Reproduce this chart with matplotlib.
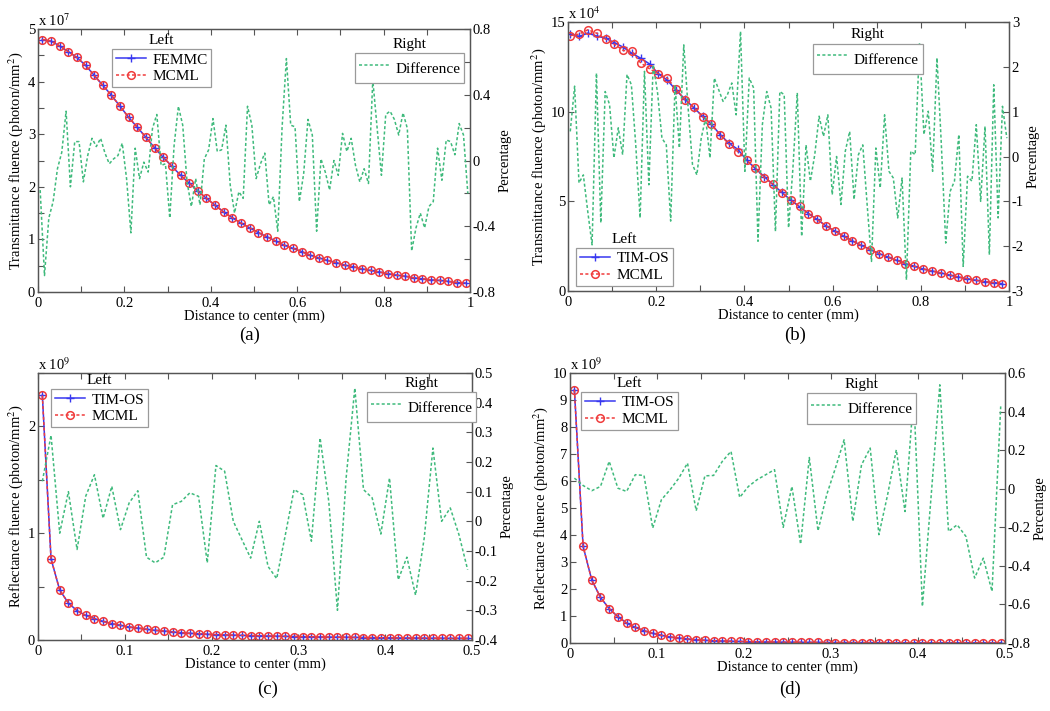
import matplotlib
matplotlib.use('Agg')
import matplotlib.pyplot as plt
import numpy as np

plt.rcParams['font.family'] = ['Liberation Serif', 'DejaVu Serif']
plt.rcParams['mathtext.fontset'] = 'stix'

# ---- data -------------------------------------------------------------
# (a) transmittance, FEMMC vs MCML
a_x = np.arange(0.01, 1.0, 0.02)
a_femmc = [4.80, 4.77, 4.68, 4.57, 4.46, 4.31, 4.12, 3.93, 3.74, 3.53,
           3.32, 3.13, 2.94, 2.74, 2.56, 2.39, 2.22, 2.07, 1.92, 1.78,
           1.65, 1.52, 1.41, 1.31, 1.22, 1.13, 1.05, 0.97, 0.89, 0.83,
           0.77, 0.70, 0.65, 0.60, 0.56, 0.51, 0.48, 0.44, 0.41, 0.38,
           0.35, 0.32, 0.30, 0.27, 0.25, 0.23, 0.22, 0.20, 0.18, 0.17]
a_mcml = list(a_femmc)
a_diff = [-0.18, -0.70, -0.35, -0.25, -0.05, 0.05, 0.30, -0.16, 0.115, 0.115,
          -0.13, 0.03, 0.135, 0.085, 0.135, 0.045, -0.02, 0.01, 0.03, 0.105,
          -0.11, -0.44, 0.075, -0.11, -0.01, -0.07, 0.195, 0.28, -0.03, -0.02,
          -0.35, 0.09, 0.33, 0.215, -0.13, -0.28, -0.11, -0.27, 0.01, 0.065,
          0.255, 0.055, 0.065, 0.215, -0.15, -0.32, -0.19, -0.23, 0.33, 0.215,
          -0.11, -0.02, 0.045, -0.27, -0.22, -0.43, 0.20, 0.62, 0.215, 0.205,
          -0.25, -0.08, 0.25, 0.155, -0.43, 0.01, -0.07, -0.18, 0.0, -0.09,
          0.165, 0.055, 0.135, -0.03, -0.13, -0.05, -0.14, 0.49, 0.20, -0.09,
          0.28, 0.30, 0.25, 0.155, 0.29, 0.195, -0.55, -0.41, -0.32, -0.41,
          -0.28, -0.25, 0.075, -0.12, 0.125, 0.115, 0.035, 0.225, 0.155, -0.20]

# (b) transmittance, TIM-OS vs MCML
b_x = np.arange(0.005, 1.0, 0.02)
b_timos = [14.33, 14.20, 14.38, 14.22, 14.10, 13.85, 13.60, 13.25, 12.98, 12.66,
           12.11, 11.76, 11.20, 10.70, 10.22, 9.75, 9.30, 8.72, 8.24, 7.90,
           7.30, 6.82, 6.38, 5.92, 5.50, 5.07, 4.70, 4.32, 3.99, 3.63,
           3.34, 3.06, 2.79, 2.55, 2.31, 2.09, 1.90, 1.71, 1.53, 1.38,
           1.23, 1.12, 1.01, 0.89, 0.78, 0.69, 0.60, 0.52, 0.47, 0.41]
b_mcml = [14.24, 14.33, 14.57, 14.38, 14.05, 13.77, 13.42, 13.36, 12.71, 12.39,
          12.11, 11.87, 11.25, 10.66, 10.25, 9.73, 9.30, 8.70, 8.20, 7.77,
          7.30, 6.84, 6.33, 5.96, 5.48, 5.07, 4.73, 4.32, 3.99, 3.63,
          3.34, 3.06, 2.79, 2.55, 2.31, 2.09, 1.90, 1.71, 1.53, 1.38,
          1.23, 1.12, 1.01, 0.89, 0.78, 0.69, 0.60, 0.52, 0.47, 0.41]
b_diff = [0.56, 1.57, -0.59, -0.41, -1.22, -1.97, 1.86, -1.48, 1.45, 1.16,
          -0.03, 0.64, 0.04, 1.83, 1.60, 0.26, -1.37, 1.90, -0.63, 2.05,
          1.42, 0.41, 0.26, -1.44, 1.60, 0.19, 2.49, 1.08, -0.18, -0.41,
          0.41, 0.86, -0.03, 1.75, 1.49, 1.23, 1.38, 1.64, 0.93, 2.79,
          -0.33, 1.75, 1.53, -1.89, 0.71, 1.45, 1.08, -1.67, 1.45, 1.38,
          -1.59, -0.26, 1.42, -1.78, 0.26, -0.55, 0.04, 0.90, 0.45, 0.93,
          -0.85, 0.0, -1.07, 0.12, 0.56, -0.96, 0.04, 0.26, -1.07, -2.34,
          0.19, -0.70, 0.93, -0.33, -0.48, -1.37, -0.48, -2.75, 0.12, 0.04,
          2.53, 0.49, 1.01, -0.33, 2.20, 0.26, -1.93, -0.78, -0.55, 0.49,
          -2.45, -0.44, -0.55, 0.71, -1.00, 0.67, -2.19, 1.60, -1.37, 1.12,
          0.41]

# (c) reflectance, TIM-OS vs MCML
c_x = np.arange(0.005, 0.5, 0.01)
c_timos = [2.29, 0.76, 0.467, 0.346, 0.274, 0.23, 0.20, 0.174, 0.153, 0.137,
           0.121, 0.112, 0.10, 0.09, 0.084, 0.075, 0.068, 0.062, 0.059, 0.053,
           0.050, 0.047, 0.045, 0.043, 0.041, 0.039, 0.037, 0.035, 0.034, 0.032,
           0.031, 0.030, 0.028, 0.027, 0.026, 0.025, 0.024, 0.023, 0.022, 0.021,
           0.020, 0.019, 0.018, 0.018, 0.017, 0.016, 0.016, 0.015, 0.015, 0.014]
c_mcml = list(c_timos)
c_diff = [0.135, 0.29, -0.04, 0.10, -0.095, 0.085, 0.157, 0.01, 0.118, -0.028,
          0.062, 0.103, -0.121, -0.14, -0.121, 0.056, 0.067, 0.096, 0.084, -0.14,
          0.188, 0.169, 0.0, -0.062, -0.124, 0.0, -0.152, -0.193, -0.045, 0.107,
          0.09, -0.067, 0.281, 0.067, -0.30, 0.146, 0.449, 0.107, 0.079, -0.043,
          0.146, -0.197, -0.121, -0.249, -0.056, 0.247, 0.0, 0.045, -0.045, -0.163]

# (d) reflectance, TIM-OS vs MCML
d_x = np.arange(0.005, 0.5, 0.01)
d_timos = [9.38, 3.58, 2.33, 1.69, 1.27, 0.975, 0.74, 0.58, 0.457, 0.36,
           0.284, 0.222, 0.185, 0.148, 0.123, 0.10, 0.086, 0.075, 0.065, 0.057,
           0.050, 0.044, 0.039, 0.035, 0.031, 0.028, 0.025, 0.023, 0.021, 0.019,
           0.017, 0.016, 0.015, 0.014, 0.013, 0.012, 0.011, 0.011, 0.010, 0.010,
           0.009, 0.009, 0.008, 0.008, 0.008, 0.007, 0.007, 0.007, 0.006, 0.006]
d_mcml = list(d_timos)
d_diff = [0.055, 0.017, -0.01, 0.012, 0.142, 0.003, -0.014, 0.073, 0.069, -0.204,
          -0.057, -0.005, 0.055, 0.133, -0.114, 0.067, 0.069, 0.142, 0.194, -0.045,
          0.012, 0.047, 0.073, 0.099, -0.20, 0.012, -0.287, 0.162, -0.218, -0.031,
          0.107, 0.254, -0.169, 0.124, 0.211, -0.238, -0.031, 0.202, -0.118, 0.487,
          -0.61, -0.04, 0.539, -0.221, -0.187, -0.247, -0.463, -0.36, -0.532, 0.427]

BLUE = '#3838f0'
RED = '#f03c3c'
GREEN = '#3fba7c'
FRAME = '#555555'
FS = 10.5


def tick_labels(ticks, shown):
    """Return labels for ticks, blank where the value is not in shown."""
    out = []
    for t in ticks:
        if any(abs(t - s) < 1e-9 for s in shown):
            out.append('%g' % (round(t, 6) + 0.0))
        else:
            out.append('')
    return out


def draw_panel(fig, rect, x, left1, left2, names, xdiff, diff,
               xlim, ylim, ylim2, xticks, xshown, yticks, yshown,
               rticks, rshown, exponent, ylabel, leg_left, leg_right):
    ax = fig.add_axes(rect)
    ax2 = ax.twinx()

    l1, = ax.plot(x, left1, '-', color=BLUE, lw=1.1, marker='+',
                  ms=5.5, mew=1.0)
    l2, = ax.plot(x, left2, linestyle=(0, (2, 1.5)), color=RED, lw=1.1,
                  marker='o', ms=5.5, mfc='none', mec=RED, mew=1.1)
    l3, = ax2.plot(xdiff, diff, linestyle=(0, (2, 1.5)), color=GREEN, lw=1.1)

    ax.set_xlim(xlim)
    ax.set_ylim(ylim)
    ax2.set_ylim(ylim2)

    ax.set_xticks(xticks)
    ax.set_xticklabels(tick_labels(xticks, xshown))
    ax.set_yticks(yticks)
    ax.set_yticklabels(tick_labels(yticks, yshown))
    ax2.set_yticks(rticks)
    ax2.set_yticklabels(tick_labels(rticks, rshown))

    ax.tick_params(direction='in', top=True, right=False, length=4,
                   width=0.8, color=FRAME, labelsize=FS, pad=2)
    ax.tick_params(axis='x', pad=3.5)
    ax2.tick_params(direction='in', length=4, width=0.8, color=FRAME,
                    labelsize=FS, pad=2)
    for a in (ax, ax2):
        for s in a.spines.values():
            s.set_color(FRAME)
            s.set_linewidth(0.9)

    ax.set_xlabel('Distance to center (mm)', fontsize=FS, labelpad=0)
    ax.set_ylabel(ylabel, fontsize=FS, labelpad=2)
    ax2.set_ylabel('Percentage', fontsize=FS, labelpad=2)

    ax.text(0.0, 1.0, r'x 10$^{%d}$' % exponent, transform=ax.transAxes,
            ha='left', va='bottom', fontsize=FS)

    # both legends live on the twin axes so they stay on top
    kw = dict(loc='upper left', frameon=True, fancybox=False,
              edgecolor='#9a9a9a', framealpha=1, fontsize=FS + 0.5,
              borderaxespad=0, handlelength=2.0, handletextpad=0.4,
              numpoints=1, borderpad=0.25)
    leg1 = ax2.legend([l1, l2], names, bbox_to_anchor=leg_left,
                      labelspacing=0.2, **kw)
    leg1.get_frame().set_linewidth(0.9)
    ax2.add_artist(leg1)
    leg2 = ax2.legend([l3], ['Difference'], bbox_to_anchor=leg_right,
                      handleheight=1.9, **kw)
    leg2.get_frame().set_linewidth(0.9)
    return ax, [(leg1, 'Left'), (leg2, 'Right')]


fig = plt.figure(figsize=(10.5, 7.11), dpi=100, facecolor='white')

legends = []

_, legs = draw_panel(
    fig, [0.0362, 0.5893, 0.4114, 0.3699], a_x, a_femmc, a_mcml,
    ['FEMMC', 'MCML'], np.arange(0.005, 1.0, 0.01), a_diff,
    (0, 1), (0, 5), (-0.8, 0.8),
    np.arange(0, 1.01, 0.1), [0, 0.2, 0.4, 0.6, 0.8, 1],
    np.arange(0, 5.01, 0.5), [0, 1, 2, 3, 4, 5],
    np.arange(-0.8, 0.81, 0.2), [-0.8, -0.4, 0, 0.4, 0.8],
    7, 'Transmittance fluence (photon/mm$^2$)',
    (0.171, 0.924), (0.734, 0.909))
legends += legs

_, legs = draw_panel(
    fig, [0.541, 0.5907, 0.42, 0.3783], b_x, b_timos, b_mcml,
    ['TIM-OS', 'MCML'], np.linspace(0.005, 0.995, len(b_diff)), b_diff,
    (0, 1), (0, 15), (-3, 3),
    np.arange(0, 1.01, 0.1), [0, 0.2, 0.4, 0.6, 0.8, 1],
    np.arange(0, 15.1, 5), [0, 5, 10, 15],
    np.arange(-3, 3.1, 1), [-3, -2, -1, 0, 1, 2, 3],
    4, 'Transmittance fluence (photon/mm$^2$)',
    (0.018, 0.16), (0.556, 0.92))
legends += legs

_, legs = draw_panel(
    fig, [0.0362, 0.0999, 0.4133, 0.3755], c_x, c_timos, c_mcml,
    ['TIM-OS', 'MCML'], c_x, c_diff,
    (0, 0.5), (0, 2.5), (-0.4, 0.5),
    np.arange(0, 0.501, 0.05), [0, 0.1, 0.2, 0.3, 0.4, 0.5],
    np.arange(0, 2.51, 0.5), [0, 1, 2],
    np.arange(-0.4, 0.51, 0.1), np.arange(-0.4, 0.51, 0.1),
    9, 'Reflectance fluence (photon/mm$^2$)',
    (0.03, 0.94), (0.758, 0.93))
legends += legs

_, legs = draw_panel(
    fig, [0.5429, 0.0956, 0.4143, 0.3797], d_x, d_timos, d_mcml,
    ['TIM-OS', 'MCML'], d_x, d_diff,
    (0, 0.5), (0, 10), (-0.8, 0.6),
    np.arange(0, 0.501, 0.05), [0, 0.1, 0.2, 0.3, 0.4, 0.5],
    np.arange(0, 10.1, 1), np.arange(0, 10.1, 1),
    np.arange(-0.8, 0.61, 0.2), np.arange(-0.8, 0.61, 0.2),
    9, 'Reflectance fluence (photon/mm$^2$)',
    (0.025, 0.93), (0.545, 0.925))
legends += legs

# panel captions
for label, cx, cy in [('(a)', 0.238, 0.528), ('(b)', 0.757, 0.528),
                      ('(c)', 0.255, 0.030), ('(d)', 0.752, 0.030)]:
    fig.text(cx, cy, label, ha='center', va='center', fontsize=13.5)

# legend titles sit above the boxes, as in MATLAB
fig.canvas.draw()
inv = fig.transFigure.inverted()
for leg, title in legends:
    bb = leg.get_window_extent()
    (x0, y0), (x1, y1) = inv.transform([[bb.x0, bb.y0], [bb.x1, bb.y1]])
    fig.text((x0 + x1) / 2, y1 + 0.003, title, ha='center', va='bottom',
             fontsize=FS + 0.5)

fig.savefig('out.png', dpi=100)
